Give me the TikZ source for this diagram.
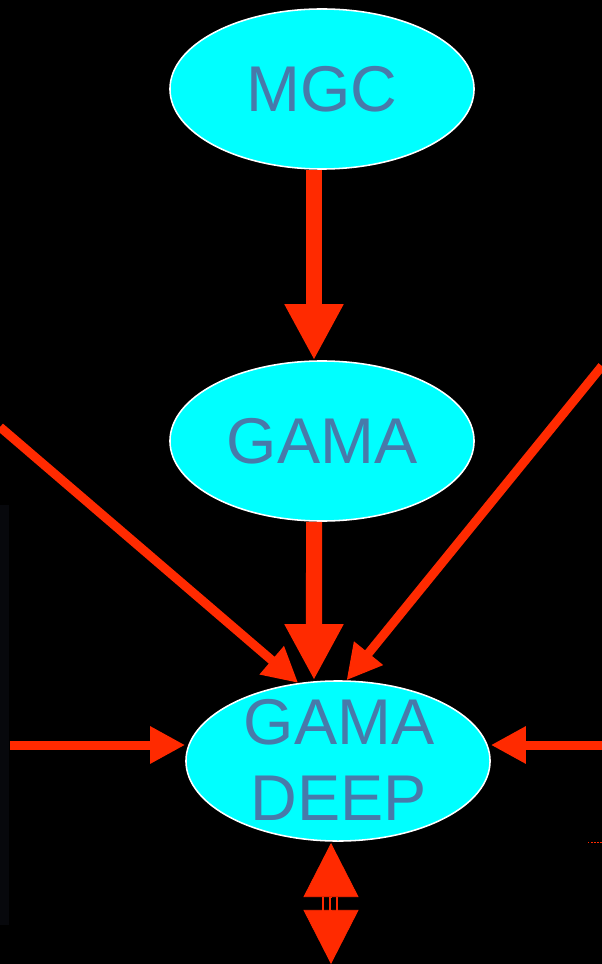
\documentclass[tikz,border=0pt]{standalone}
\usepackage{fontspec}
\setmainfont{Liberation Sans}
\usetikzlibrary{arrows.meta,calc,positioning,shapes.geometric}

\definecolor{blobcyan}{RGB}{0,255,255}
\definecolor{arrowred}{RGB}{255,42,0}
\definecolor{labelblue}{RGB}{72,122,170}
\definecolor{speckle}{RGB}{7,8,12}

\begin{document}
\begin{tikzpicture}[
    x=0.025cm, y=-0.025cm,
    blob/.style={ellipse, draw=white, line width=1.1pt, fill=blobcyan,
        minimum width=7.6cm, minimum height=4cm, inner sep=0pt},
    txt/.style={font=\fontsize{46}{54}\selectfont, text=labelblue, inner sep=0pt},
    bigarrow/.style={draw=arrowred, line width=0.4cm,
        -{Triangle[length=1.4cm, width=1.375cm]}},
    feeder/.style={draw=arrowred, line width=0.225cm,
        -{Triangle[length=0.875cm, width=0.875cm]}},
    headonly/.style={draw=arrowred, fill=arrowred, line width=0.5pt,
        -{Triangle[length=1.35cm, width=1.375cm]}}
]

% Background
\fill[black] (0,0) rectangle (602,964);
\useasboundingbox (0,0) rectangle (602,964);
\fill[speckle] (0,505) rectangle (9,925);

% Survey ellipses
\node[blob, txt] (mgc) at (322,89) {MGC};
\node[blob, txt] (gama) at (322,441) {GAMA};
\node[blob] (deep) at (338,761) {};
\node[txt, align=center] (deeplabel) at (339,760) {GAMA\\DEEP};

% Free ends of the feeding arrows
\coordinate (ldiag) at (0,427);
\coordinate (rdiag) at (602,366);
\coordinate (lfar) at (10,745);
\coordinate (rfar) at (602,745);

% Main chain
\draw[bigarrow] ([xshift=-0.2cm]mgc.south) -- ([xshift=-0.2cm]gama.north);
\draw[bigarrow] ([xshift=-0.2cm]gama.south) -- ([xshift=-0.6cm]deep.north);

% Arrows into GAMA DEEP
\draw[feeder] (ldiag) -- (deep.117);
\draw[feeder] (rdiag) -- (deep.84);
\draw[feeder] (lfar) -- (lfar -| deep.west);
\draw[feeder] (rfar) -- (rfar -| deep.east);

% Split double arrow below
\coordinate (uptip) at (331,843);
\coordinate (upbase) at (331,897);
\coordinate (dnbase) at (331,914);
\coordinate (dntip) at (331,964);
\draw[headonly] (upbase) -- (uptip);
\draw[headonly] (dnbase) -- (dntip);
\foreach \dx in {-8,-1,6}
    \draw[arrowred, line width=1.4pt] ($(upbase)+(\dx,0)$) -- ($(dnbase)+(\dx,0)$);

% Dotted stub
\coordinate (dotA) at (588,842);
\coordinate (dotB) at (602,842);
\draw[arrowred, line width=0.7pt, dash pattern=on 1pt off 1.2pt] (dotA) -- (dotB);

\end{tikzpicture}
\end{document}
